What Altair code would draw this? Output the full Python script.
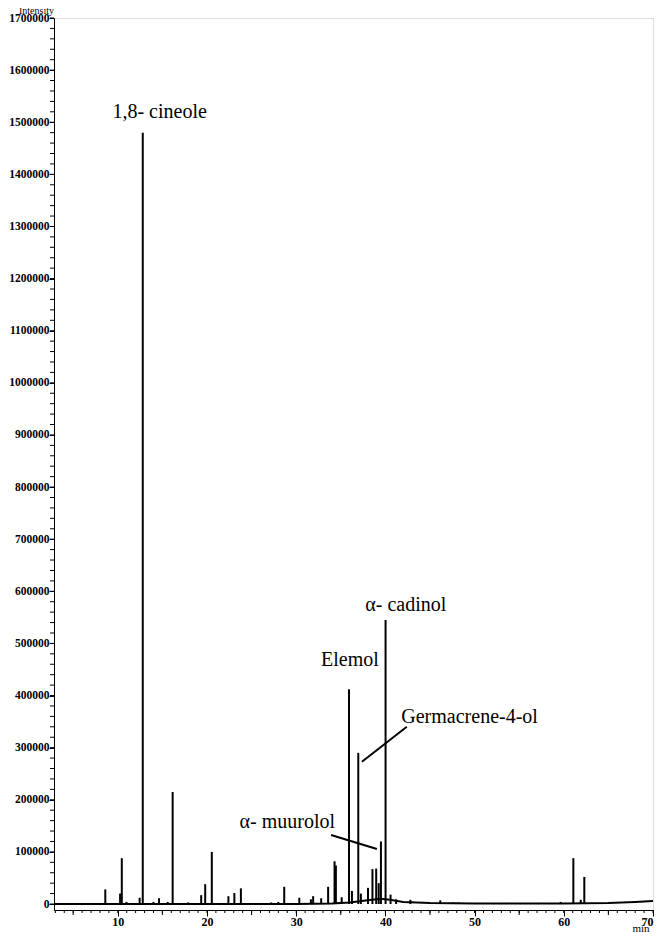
import altair as alt
import pandas as pd

# Peak retention times (min) and peak intensities
peak_time = [8.6, 10.26, 10.45, 10.97, 12.45, 12.8, 14.0, 14.62, 15.6, 16.15,
             17.9, 19.35, 19.8, 20.54, 22.4, 23.07, 23.8, 27.2, 28.0, 28.66,
             30.35, 31.65, 31.9, 32.8, 33.58, 34.3, 34.45, 35.1, 35.92, 36.25,
             36.96, 37.25, 38.05, 38.55, 38.97, 39.25, 39.5, 40.02, 40.58, 41.2,
             42.8, 46.15, 47.6, 48.2, 50.6, 53.4, 57.0, 59.65, 61.07, 61.9, 62.3]
peak_height = [28000, 20000, 88000, 4000, 12000, 1480000, 4000, 11000, 4000, 215000,
               3000, 17000, 38000, 100000, 15000, 21000, 30000, 3000, 4000, 33000,
               12000, 9000, 15000, 11000, 33000, 82000, 74000, 13000, 412000, 25000,
               290000, 20000, 31000, 67000, 68000, 40000, 120000, 545000, 18000, 9000,
               8000, 7000, 3000, 3000, 2000, 2000, 2000, 4000, 88000, 8000, 52000]

# Baseline (drift) of the signal
base_time = [2.85, 30, 34, 36, 38, 39.5, 40.5, 42, 45, 50, 60, 65, 68, 70]
base_level = [0, 0, 1000, 3000, 7000, 10000, 8000, 4000, 2000, 1000, 1000, 2000, 4000, 6000]

# Compound labels
label_text = ["1,8- cineole", "α- cadinol", "Elemol", "Germacrene-4-ol", "α- muurolol"]
label_time = [14.69, 42.29, 36.03, 49.44, 29.0]
label_int = [1519000, 574000, 468700, 359200, 157500]

# Leader lines (start -> end)
lead_t1 = [42.4, 33.91]
lead_v1 = [340000, 132500]
lead_t2 = [37.37, 39.05]
lead_v2 = [272800, 105600]

x_major = [10, 20, 30, 40, 50, 60, 70]
x_minor = list(range(3, 71))
x_mid = [5, 15, 25, 35, 45, 55, 65]
y_major = list(range(0, 1700001, 100000))
y_minor = list(range(0, 1700001, 20000))

FONT = "Liberation Serif"
xs = alt.Scale(domain=[2.85, 70], nice=False, zero=False)
ys = alt.Scale(domain=[-11500, 1700000], nice=False, zero=False)
xax = alt.Axis(title=None, values=x_major, tickSize=6, labelPadding=0, grid=False,
               labelFont=FONT, labelFontSize=12, labelFontWeight="bold",
               labelColor="black", domainColor="black", tickColor="black", labelFlush=True)
yax = alt.Axis(title=None, values=y_major, tickSize=5, labelPadding=0, grid=False, format="d",
               labelFont=FONT, labelFontSize=11.5, labelFontWeight="bold",
               labelColor="black", domainColor="black", tickColor="black")

def X(f="t"):
    return alt.X(f + ":Q", scale=xs, axis=xax)

def Y(f="v"):
    return alt.Y(f + ":Q", scale=ys, axis=yax)

peaks = pd.DataFrame({"t": peak_time, "v": [0] * len(peak_time), "v2": peak_height})
base = pd.DataFrame({"t": base_time, "v": base_level})
labels = pd.DataFrame({"t": label_time, "v": label_int, "txt": label_text})
leaders = pd.DataFrame({"t": lead_t1, "v": lead_v1, "t2": lead_t2, "v2": lead_v2})
xmin_df = pd.DataFrame({"t": x_minor})
xmid_df = pd.DataFrame({"t": x_mid})
ymin_df = pd.DataFrame({"v": y_minor})

baseline = alt.Chart(base).mark_line(color="black", strokeWidth=2).encode(x=X(), y=Y())
peak_rules = alt.Chart(peaks).mark_rule(color="black", strokeWidth=2).encode(
    x=X(), y=Y(), y2="v2:Q")
texts = alt.Chart(labels).mark_text(font=FONT, fontSize=20, color="black",
                                    baseline="middle", align="center").encode(
    x=X(), y=Y(), text="txt:N")
lead = alt.Chart(leaders).mark_rule(color="black", strokeWidth=2).encode(
    x=X(), y=Y(), x2="t2:Q", y2="v2:Q")
xminor = alt.Chart(xmin_df).mark_rule(color="black", strokeWidth=1).encode(
    x=X(), y=alt.value(892), y2=alt.value(895))
xmid = alt.Chart(xmid_df).mark_rule(color="black", strokeWidth=1).encode(
    x=X(), y=alt.value(892), y2=alt.value(897))
yminor = alt.Chart(ymin_df).mark_rule(color="black", strokeWidth=1).encode(
    y=Y(), x=alt.value(-4), x2=alt.value(0))
intensity = alt.Chart(pd.DataFrame({"a": [0]})).mark_text(
    text="Intensity", font=FONT, fontSize=10, align="right", baseline="alphabetic",
    color="black").encode(x=alt.value(0), y=alt.value(-4))
minlab = alt.Chart(pd.DataFrame({"a": [0]})).mark_text(
    text="min", font=FONT, fontSize=11, align="center", baseline="alphabetic",
    color="black").encode(x=alt.value(587), y=alt.value(914))

chart = alt.layer(baseline, peak_rules, xminor, xmid, yminor, lead, texts,
                  intensity, minlab).properties(
    width=599, height=892,
    autosize=alt.AutoSizeParams(type="none"),
    padding={"left": 46, "top": 10, "right": 1, "bottom": 25},
).configure_view(stroke="black", strokeWidth=1).configure(background="white")

chart.save("out.html", embed_options={"renderer": "svg", "actions": False})
